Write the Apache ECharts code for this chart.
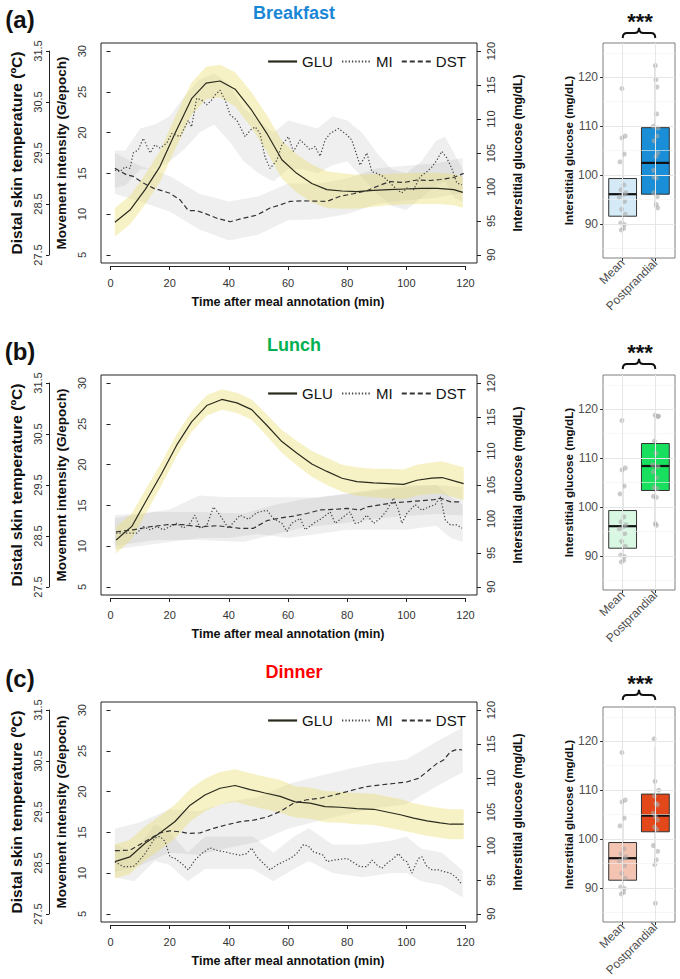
<!DOCTYPE html>
<html><head><meta charset="utf-8">
<script src="https://cdn.jsdelivr.net/npm/echarts@6/dist/echarts.min.js"></script>
<style>html,body{margin:0;padding:0;background:#fff}#c{width:680px;height:979px}</style>
</head><body><div id="c"></div>
<script>
const FONT = "'Liberation Sans', Arial, Helvetica, sans-serif";

// ---------- tick labels / categories ----------
const timeTicks = [0, 20, 40, 60, 80, 100, 120];
const miTicks = [5, 10, 15, 20, 25, 30];
const gluTicks = [90, 95, 100, 105, 110, 115, 120];
const dstTicks = [27.5, 28.5, 29.5, 30.5, 31.5];
const boxTicks = [90, 100, 110, 120];
const boxMinor = [85, 95, 105, 115, 125];
const boxCategories = ['Mean', 'Postprandial'];
const seriesNames = ['GLU', 'MI', 'DST'];
const mealTitles = ['Breakfast', 'Lunch', 'Dinner'];
const mealColors = ['#1a86d6', '#00b050', '#ff0000'];
const panelLetters = ['(a)', '(b)', '(c)'];

// ---------- (a) Breakfast ----------
const gluA = [[1.5,94.8],[6.6,96.6],[11.7,99.6],[16.7,103.0],[21.8,107.9],[27.4,113.0],[32.3,115.3],[37.0,115.6],[42.1,114.4],[47.7,111.3],[52.8,107.9],[57.9,104.0],[62.9,102.0],[68.0,100.5],[73.1,99.6],[78.2,99.4],[83.2,99.3],[88.8,99.5],[94.0,99.6],[99.5,99.7],[105.0,99.8],[110.5,99.8],[116.0,99.6],[119.0,99.2]];
const gluAse = [2.1,2.1,2.2,2.3,2.4,2.4,2.4,2.4,2.5,2.6,2.7,2.8,2.8,2.8,2.7,2.6,2.5,2.4,2.3,2.3,2.3,2.3,2.3,2.3];
const miA = [[1.5,15.4],[3.2,15.2],[4.9,15.8],[6.6,15.6],[7.7,17.5],[9.4,17.9],[11.1,19.3],[13.4,17.5],[15.0,18.5],[16.7,18.1],[19.0,18.7],[20.7,19.9],[23.5,19.5],[26.3,21.5],[27.4,20.7],[29.1,24.2],[30.8,24.0],[32.5,23.4],[34.2,24.0],[35.3,24.6],[37.0,25.2],[38.7,24.0],[40.4,22.2],[42.7,21.5],[45.5,19.5],[47.2,20.3],[48.9,20.7],[50.5,19.9],[52.2,17.0],[53.9,15.6],[56.2,16.6],[57.9,18.5],[60.1,19.5],[61.8,17.7],[64.1,19.1],[65.8,18.5],[67.4,17.9],[69.1,18.3],[70.8,17.1],[72.5,19.1],[74.2,19.9],[77.0,20.5],[79.9,19.7],[81.5,19.1],[84.3,16.0],[86.6,17.5],[88.3,15.2],[90.0,15.0],[92.2,14.6],[94.5,13.8],[96.8,13.0],[98.4,12.6],[100.1,13.2],[102.4,13.0],[104.6,14.6],[106.9,15.2],[108.6,15.8],[110.2,16.6],[111.9,17.7],[113.6,16.9],[115.3,15.6],[117.0,13.8],[118.7,13.6]];
const miBandA = [[1.5,13.2,17.8],[5,13.5,17.8],[10,15.5,20.5],[15,15.5,21],[20,16.5,22],[25,18,24.5],[30,20,26.5],[35,21,27.3],[40,19,26],[45,16.5,23],[50,15,21.5],[55,14,20],[60,15.5,21.5],[65,15.5,21],[70,15,20.5],[75,16,22],[80,16.5,21.5],[85,14.5,20],[90,12.5,17.5],[95,11,15.5],[100,10.5,15],[105,12,16.5],[110,13.5,19],[113,14,19.5],[116,12,17.5],[119,11.5,15.5]];
const dstA = [[1.5,29.20],[5.5,29.07],[7.7,29.04],[11.1,28.91],[14.5,28.81],[20.1,28.71],[23.5,28.58],[26.3,28.37],[29.1,28.37],[32.5,28.30],[35.9,28.22],[40.4,28.15],[44.9,28.22],[49.4,28.28],[53.9,28.42],[57.3,28.48],[60.7,28.55],[65.2,28.56],[73.1,28.55],[77.6,28.65],[82.1,28.70],[86.6,28.76],[91.1,28.87],[94.5,28.94],[99.0,28.92],[103.5,28.97],[108.0,28.96],[111.4,28.98],[115.9,29.02],[119.3,29.10]];
const dstBandA = [[1.5,28.7,29.5],[10,28.55,29.25],[20,28.35,29.05],[30,28.0,28.7],[40,27.78,28.55],[50,27.9,28.65],[60,28.18,28.9],[70,28.2,28.9],[80,28.3,29.0],[90,28.5,29.2],[100,28.57,29.25],[110,28.62,29.3],[119,28.72,29.4]];

// ---------- (b) Lunch ----------
const gluB = [[1.9,96.9],[7.2,98.9],[12.2,102.8],[17.3,106.7],[22.4,110.9],[27.4,114.3],[32.5,116.7],[37.6,117.6],[42.7,117.1],[47.7,116.1],[52.8,113.8],[57.9,111.4],[62.9,109.7],[68.0,108.1],[73.1,107.0],[78.2,106.0],[83.2,105.5],[88.9,105.3],[94.0,105.2],[99.0,105.1],[103.5,105.7],[108.5,106.0],[112.0,106.1],[116.0,105.6],[119.3,105.2]];
const gluBse = [2.0,1.9,1.8,1.7,1.6,1.5,1.5,1.5,1.5,1.5,1.6,1.7,1.8,1.9,2.0,2.0,2.1,2.1,2.2,2.2,2.3,2.3,2.4,2.4,2.4];
const miB = [[1.9,11.6],[5.5,11.6],[8.9,11.6],[11.1,12.4],[13.4,12.0],[15.6,12.4],[17.9,12.0],[20.1,12.4],[22.4,12.8],[24.6,12.2],[26.9,12.8],[28.5,13.8],[30.3,12.2],[32.5,12.5],[34.8,14.8],[37.0,13.8],[39.8,12.2],[43.8,13.8],[46.6,13.3],[49.4,14.1],[52.8,14.4],[55.0,13.4],[57.9,12.8],[59.6,11.8],[61.2,12.8],[64.1,13.4],[65.8,12.0],[68.6,12.8],[71.4,13.4],[74.2,14.2],[75.9,12.8],[78.7,13.6],[80.9,14.2],[82.6,12.8],[84.3,12.9],[86.6,13.8],[88.9,12.8],[91.1,13.4],[93.4,14.4],[95.6,15.9],[97.3,14.4],[98.4,12.8],[100.1,14.0],[102.9,15.1],[105.2,14.4],[107.4,14.8],[109.7,15.1],[111.4,16.1],[113.1,13.2],[114.8,12.6],[117.0,12.6],[118.7,12.2]];
const miBandB = [[1.5,9.6,13.8],[10,10,14],[20,10.5,14.5],[30,11,16.2],[40,11,16],[50,11.5,16],[60,11,16],[70,11.5,16],[80,12,16.5],[90,12,17],[100,12,17.5],[110,12.5,17.5],[115,11,16],[119,10.5,15]];
const dstB = [[1.9,28.58],[7.7,28.62],[13.4,28.68],[19.0,28.72],[24.6,28.72],[30.3,28.68],[35.9,28.70],[39.3,28.68],[43.8,28.65],[48.3,28.65],[52.8,28.80],[57.3,28.85],[61.8,28.89],[66.3,28.94],[70.8,29.01],[75.3,29.02],[79.9,29.04],[84.3,29.01],[86.6,29.07],[91.1,29.11],[95.6,29.15],[100.1,29.17],[104.6,29.19],[109.1,29.21],[111.4,29.24],[114.8,29.17],[118.1,29.17]];
const dstBandB = [[1.5,28.3,28.85],[15,28.42,28.97],[30,28.42,28.97],[45,28.38,28.94],[55,28.53,29.1],[65,28.66,29.22],[80,28.76,29.32],[95,28.87,29.43],[110,28.93,29.5],[119,28.9,29.46]];

// ---------- (c) Dinner ----------
const gluC = [[1.5,97.7],[6.6,98.4],[11.7,100.4],[16.7,101.9],[21.8,103.6],[26.9,106.0],[31.9,107.5],[37.0,108.5],[42.1,108.9],[47.2,108.3],[52.2,107.8],[57.3,107.3],[62.4,106.5],[67.4,106.3],[72.5,105.8],[77.6,105.7],[83.2,105.5],[88.9,105.4],[93.4,105.0],[97.9,104.6],[102.4,104.1],[106.9,103.7],[111.4,103.4],[114.8,103.2],[119.3,103.2]];
const gluCse = [2.5,2.5,2.5,2.5,2.5,2.4,2.4,2.4,2.4,2.4,2.4,2.4,2.3,2.3,2.3,2.3,2.3,2.3,2.3,2.3,2.2,2.2,2.2,2.2,2.2];
const miC = [[1.5,11.4],[4.3,10.8],[7.7,10.8],[9.4,11.4],[11.7,12.4],[15.0,14.3],[16.7,14.5],[18.4,13.9],[20.1,12.0],[21.8,11.8],[24.0,11.2],[26.3,10.4],[28.5,11.6],[30.8,12.4],[33.6,13.1],[35.9,12.8],[38.7,12.6],[40.9,12.4],[43.8,12.2],[46.0,12.4],[47.7,13.1],[49.4,12.0],[51.7,11.2],[53.9,10.4],[56.2,11.0],[58.4,11.4],[60.7,11.8],[62.9,12.4],[65.2,13.5],[66.9,13.3],[68.6,12.6],[70.3,12.4],[71.9,12.2],[73.1,11.4],[75.3,11.6],[77.6,11.7],[79.9,11.8],[82.1,11.3],[84.3,10.8],[86.6,10.8],[88.3,11.6],[90.0,11.0],[91.7,10.6],[93.4,11.2],[95.6,11.8],[97.3,12.4],[99.0,11.6],[100.1,11.4],[101.8,10.0],[104.0,11.8],[105.2,12.0],[106.9,10.8],[108.6,10.4],[110.8,10.4],[112.5,10.2],[114.8,10.0],[117.0,9.4],[118.7,8.6]];
const miBandC = [[1.5,9.5,13.5],[8,9,12.5],[15,11.5,16],[20,11,15],[26,9,12.5],[32,10.5,14.5],[40,10.5,14.5],[48,10.5,14.5],[55,9,12.5],[62,10.5,14.5],[67,11.5,15.5],[75,10,13.5],[85,9.5,13.5],[95,10,14],[100,10,14.5],[105,9,13],[112,8.5,12.5],[119,7,10.3]];
const dstC = [[1.5,28.74],[6.6,28.75],[11.7,28.92],[16.7,29.09],[20.1,29.13],[23.5,29.11],[26.3,29.08],[30.3,29.09],[34.8,29.18],[39.3,29.25],[43.8,29.31],[48.3,29.34],[52.8,29.40],[57.3,29.51],[61.8,29.67],[66.3,29.74],[70.8,29.77],[75.3,29.83],[79.9,29.90],[84.3,29.97],[86.6,30.00],[91.1,30.03],[95.6,30.06],[100.1,30.09],[104.0,30.16],[106.9,30.29],[110.2,30.45],[112.5,30.52],[114.8,30.68],[117.0,30.73],[118.7,30.72]];
const dstBandC = [[1.5,28.32,29.17],[10,28.45,29.3],[20,28.7,29.55],[30,28.66,29.52],[40,28.8,29.7],[50,28.92,29.8],[60,29.17,30.05],[70,29.32,30.2],[80,29.46,30.34],[90,29.58,30.46],[100,29.65,30.53],[110,30.0,30.88],[119,30.28,31.16]];

// ---------- boxplots: [lower whisker, Q1, median, Q3, upper whisker] ----------
const boxMean = [88.8, 91.6, 96.1, 99.3, 108.0];
const boxPostA = [93.2, 96.1, 102.5, 109.7, 122.4];
const boxPostB = [96.2, 103.4, 108.4, 113.0, 118.8];
const boxPostC = [95.1, 101.5, 104.8, 109.2, 119.0];
const boxFillA = ['#d4eaf7', '#1a8ed6'];
const boxFillB = ['#d8f8e4', '#19df5e'];
const boxFillC = ['#f4c4b2', '#e3481b'];
// jittered points: [x offset, value]
const ptsMean = [[-0.02,117.7],[0.08,108.0],[-0.02,107.6],[0.05,104.3],[-0.08,102.7],[0.04,98.0],[-0.05,97.0],[0.1,96.4],[0.02,96.0],[-0.1,95.5],[0.06,94.6],[-0.03,93.0],[0.08,92.0],[-0.06,90.2],[0.05,89.9],[0.03,89.1],[-0.04,88.8]];
const ptsPostA = [[0.0,122.4],[0.02,119.5],[0.05,118.0],[0.04,112.5],[-0.06,110.0],[0.08,109.6],[0.05,108.0],[-0.04,107.0],[0.07,104.5],[0.02,103.8],[-0.05,101.0],[-0.04,99.6],[0.03,99.4],[-0.05,96.4],[0.06,95.6],[0.03,94.0],[0.07,93.3]];
const ptsPostB = [[-0.01,118.8],[0.07,118.5],[0.1,118.6],[-0.03,113.5],[0.02,111.0],[-0.08,108.6],[0.08,108.3],[-0.06,107.2],[0.04,106.0],[-0.04,104.0],[0.05,103.8],[-0.06,102.2],[0.03,102.0],[0.0,96.6],[0.03,96.3]];
const ptsPostC = [[-0.04,120.5],[-0.01,111.8],[0.1,110.0],[-0.03,108.8],[0.02,107.3],[0.06,107.0],[-0.06,105.3],[0.0,104.6],[0.06,103.9],[-0.02,102.5],[0.04,102.0],[-0.06,98.7],[0.07,97.5],[0.03,95.8],[-0.02,94.8],[0.0,86.9]];

// ---------- layout (positions only) ----------
const panelOffsets = [0, 332, 659];
const boxOffsets = [0, 332, 664];
const annOffsets = [0, 331, 662];

const panels = [
  {glu: gluA, se: gluAse, mi: miA, miBand: miBandA, dst: dstA, dstBand: dstBandA, post: boxPostA, postPts: ptsPostA, fills: boxFillA},
  {glu: gluB, se: gluBse, mi: miB, miBand: miBandB, dst: dstB, dstBand: dstBandB, post: boxPostB, postPts: ptsPostB, fills: boxFillB},
  {glu: gluC, se: gluCse, mi: miC, miBand: miBandC, dst: dstC, dstBand: dstBandC, post: boxPostC, postPts: ptsPostC, fills: boxFillC}
];

const chart = echarts.init(document.getElementById('c'), null, {renderer: 'svg', width: 680, height: 979});
const grids = [], xAxis = [], yAxis = [], series = [], legend = [];
const addGrid = g => (grids.push(Object.assign({outerBoundsMode: 'none', containLabel: false}, g)), grids.length - 1);
const addX = a => (xAxis.push(a), xAxis.length - 1);
const addY = a => (yAxis.push(a), yAxis.length - 1);
const axisLineStyle = {color: '#222', width: 1};
const tickLabel = {fontSize: 11, color: '#333', fontFamily: FONT};
const boxXIdx = [];

const YELLOW = 'rgba(236,222,110,0.40)';
const GRAY = 'rgba(150,150,150,0.15)';

function band(xi, yi, pts, color, z) {
  series.push({
    type: 'custom', xAxisIndex: xi, yAxisIndex: yi, silent: true, z: z,
    data: pts, encode: {x: 0, y: [1, 2]},
    renderItem: (params, api) => {
      if (params.dataIndex !== 0) return null;
      const up = pts.map(p => api.coord([p[0], p[2]]));
      const lo = pts.map(p => api.coord([p[0], p[1]])).reverse();
      return {type: 'polygon', shape: {points: up.concat(lo)}, style: {fill: color}};
    }
  });
}

panels.forEach((p, k) => {
  const o = panelOffsets[k];
  const gM = addGrid({left: 101, top: 43 + o, width: 376, height: 220, show: true, borderColor: '#222', borderWidth: 1, backgroundColor: 'rgba(0,0,0,0)'});
  const xM = addX({type: 'value', gridIndex: gM, min: -3.2, max: 123.8, show: false});
  const yMI = addY({
    type: 'value', gridIndex: gM, position: 'left', min: 4, max: 31,
    axisLine: {show: false}, splitLine: {show: false},
    axisTick: {show: true, length: 4, customValues: miTicks, lineStyle: axisLineStyle},
    axisLabel: Object.assign({show: true, rotate: 90, margin: 14, customValues: miTicks}, tickLabel),
    name: 'Movement intensity (G/epoch)', nameLocation: 'middle', nameRotate: 90, nameGap: 30,
    nameTextStyle: {fontSize: 13.5, fontWeight: 'bold', color: '#111', fontFamily: FONT}
  });
  const yG = addY({
    type: 'value', gridIndex: gM, position: 'right', min: 88.8, max: 121.2,
    axisLine: {show: false}, splitLine: {show: false},
    axisTick: {show: true, length: 4, customValues: gluTicks, lineStyle: axisLineStyle},
    axisLabel: Object.assign({show: true, rotate: 90, margin: 8.5, customValues: gluTicks}, tickLabel),
    name: 'Interstitial glucose (mg/dL)', nameLocation: 'middle', nameRotate: 90, nameGap: 35,
    nameTextStyle: {fontSize: 12.3, fontWeight: 'bold', color: '#111', fontFamily: FONT}
  });
  const yD = addY({type: 'value', gridIndex: gM, position: 'left', min: 27.34, max: 31.66, show: false});

  const gX = addGrid({left: 110.5, top: 265 + o, width: 355, height: 1});
  addX({
    type: 'value', gridIndex: gX, min: 0, max: 120, interval: 20, position: 'bottom',
    axisLine: {show: true, lineStyle: axisLineStyle}, axisTick: {show: true, length: 4, lineStyle: axisLineStyle},
    splitLine: {show: false}, axisLabel: Object.assign({margin: 11}, tickLabel),
    name: 'Time after meal annotation (min)', nameLocation: 'middle', nameGap: 29,
    nameTextStyle: {fontSize: 12.5, fontWeight: 'bold', color: '#111', fontFamily: FONT}
  });
  addY({type: 'value', gridIndex: gX, show: false});

  const gD = addGrid({left: 49, top: 51 + o, width: 10, height: 204});
  addX({type: 'value', gridIndex: gD, show: false});
  addY({
    type: 'value', gridIndex: gD, position: 'left', min: 27.5, max: 31.5,
    axisLine: {show: true, lineStyle: axisLineStyle}, splitLine: {show: false},
    axisTick: {show: true, length: 3, customValues: dstTicks, lineStyle: axisLineStyle},
    axisLabel: Object.assign({rotate: 90, margin: 5.5, customValues: dstTicks}, tickLabel),
    name: 'Distal skin temperature (ºC)', nameLocation: 'middle', nameRotate: 90, nameGap: 25,
    nameTextStyle: {fontSize: 15.5, fontWeight: 'bold', color: '#111', fontFamily: FONT}
  });

  band(xM, yMI, p.miBand, GRAY, 1);
  band(xM, yD, p.dstBand, GRAY, 1);
  band(xM, yG, p.glu.map((d, i) => [d[0], d[1] - p.se[i], d[1] + p.se[i]]), YELLOW, 2);

  series.push({type: 'line', name: 'GLU', xAxisIndex: xM, yAxisIndex: yG, data: p.glu, symbol: 'none', silent: true, z: 5,
    itemStyle: {color: '#2a2a1e'}, lineStyle: {color: '#2a2a1e', width: 1.2, type: 'solid'}});
  series.push({type: 'line', name: 'MI', xAxisIndex: xM, yAxisIndex: yMI, data: p.mi, symbol: 'none', silent: true, z: 5,
    itemStyle: {color: '#444'}, lineStyle: {color: '#444', width: 1.2, type: [1.3, 2]}});
  series.push({type: 'line', name: 'DST', xAxisIndex: xM, yAxisIndex: yD, data: p.dst, symbol: 'none', silent: true, z: 5,
    itemStyle: {color: '#333'}, lineStyle: {color: '#333', width: 1.2, type: [5, 3]}});

  legend.push({left: 267, top: 54 + o, padding: 0, itemWidth: 29, itemHeight: 14, itemGap: 8, selectedMode: false,
    data: seriesNames, textStyle: {fontSize: 15, color: '#111', fontFamily: FONT},
    lineStyle: {width: 2.2}, itemStyle: {opacity: 0}});

  const ob = boxOffsets[k];
  const gB = addGrid({left: 603, top: 43 + ob, width: 72, height: 215, show: true, borderColor: '#7f7f7f', borderWidth: 1});
  const xB = addX({
    type: 'value', gridIndex: gB, min: 0.4, max: 2.6,
    axisLine: {show: false}, splitLine: {show: false},
    axisTick: {show: true, length: 3, customValues: [1, 2], lineStyle: {color: '#333'}},
    axisLabel: {customValues: [1, 2], rotate: 45, margin: 3, fontSize: 12, color: '#4d4d4d', fontFamily: FONT,
      formatter: v => boxCategories[Math.round(v) - 1]}
  });
  boxXIdx.push(xB);
  const yB = addY({
    type: 'value', gridIndex: gB, min: 83.06, max: 127,
    axisLine: {show: false}, splitLine: {show: false},
    axisTick: {show: true, length: 3, customValues: boxTicks, lineStyle: {color: '#333'}},
    axisLabel: {customValues: boxTicks, margin: 5, fontSize: 12, color: '#4d4d4d', fontFamily: FONT},
    name: 'Interstitial glucose (mg/dL)', nameLocation: 'middle', nameRotate: 90, nameGap: 24,
    nameTextStyle: {fontSize: 11.7, fontWeight: 'bold', color: '#111', fontFamily: FONT}
  });
  series.push({type: 'scatter', xAxisIndex: xB, yAxisIndex: yB, data: [], z: 1, silent: true,
    markLine: {silent: true, symbol: 'none', label: {show: false}, animation: false,
      data: [].concat(
        boxMinor.map(v => ({yAxis: v, lineStyle: {color: '#f2f2f2', width: 0.6, type: 'solid'}})),
        boxTicks.map(v => ({yAxis: v, lineStyle: {color: '#e6e6e6', width: 1, type: 'solid'}})),
        [1, 2].map(v => ({xAxis: v, lineStyle: {color: '#e6e6e6', width: 1, type: 'solid'}}))
      )}});
  const fills = p.fills;
  series.push({
    type: 'custom', xAxisIndex: xB, yAxisIndex: yB, silent: true, z: 2,
    data: [[1].concat(boxMean), [2].concat(p.post)], encode: {x: 0, y: [1, 2, 3, 4, 5]},
    renderItem: (params, api) => {
      const x = api.value(0), w = 0.85;
      const c = i => api.coord([x, api.value(i)]);
      const pMin = c(1), pQ1 = c(2), pMed = c(3), pQ3 = c(4), pMax = c(5);
      const L = api.coord([x - w / 2, api.value(2)])[0], R = api.coord([x + w / 2, api.value(2)])[0];
      const st = {stroke: '#333', lineWidth: 1};
      return {type: 'group', children: [
        {type: 'line', shape: {x1: pMin[0], y1: pMin[1], x2: pQ1[0], y2: pQ1[1]}, style: st},
        {type: 'line', shape: {x1: pQ3[0], y1: pQ3[1], x2: pMax[0], y2: pMax[1]}, style: st},
        {type: 'rect', shape: {x: L, y: pQ3[1], width: R - L, height: pQ1[1] - pQ3[1]}, style: {fill: fills[params.dataIndex], stroke: '#333', lineWidth: 1}},
        {type: 'line', shape: {x1: L, y1: pMed[1], x2: R, y2: pMed[1]}, style: {stroke: '#111', lineWidth: 2.2}}
      ]};
    }
  });
  series.push({type: 'scatter', xAxisIndex: xB, yAxisIndex: yB, silent: true, z: 3, symbolSize: 5,
    itemStyle: {color: 'rgba(170,170,170,0.75)'},
    data: ptsMean.map(d => [1 + d[0], d[1]]).concat(p.postPts.map(d => [2 + d[0], d[1]]))});
});

chart.setOption({
  animation: false, backgroundColor: '#fff',
  textStyle: {fontFamily: FONT},
  grid: grids, xAxis: xAxis, yAxis: yAxis, legend: legend, series: series
});

// annotations: titles, panel letters, significance marks
const gfx = [];
panelOffsets.forEach((o, k) => {
  const a = annOffsets[k];
  gfx.push({type: 'text', x: 20, y: 19 + o, style: {text: panelLetters[k], fontSize: 24, fontWeight: 'bold', fontFamily: FONT, fill: '#111', align: 'center', verticalAlign: 'middle'}});
  gfx.push({type: 'text', x: 294, y: 13 + o, style: {text: mealTitles[k], fontSize: 18, fontWeight: 'bold', fontFamily: FONT, fill: mealColors[k], align: 'center', verticalAlign: 'middle'}});
  const x1 = chart.convertToPixel({xAxisIndex: boxXIdx[k]}, 1);
  const x2 = chart.convertToPixel({xAxisIndex: boxXIdx[k]}, 2);
  const xm = (x1 + x2) / 2, y = 33 + a;
  const pts = [[x1, y + 5], [x1 + 0.6, y + 2], [x1 + 2, y + 0.5], [x1 + 4, y], [xm - 4, y], [xm - 2, y - 0.5], [xm - 0.6, y - 2], [xm, y - 5],
               [xm + 0.6, y - 2], [xm + 2, y - 0.5], [xm + 4, y], [x2 - 4, y], [x2 - 2, y + 0.5], [x2 - 0.6, y + 2], [x2, y + 5]];
  gfx.push({type: 'polyline', shape: {points: pts}, style: {stroke: '#111', lineWidth: 2, fill: null}});
  gfx.push({type: 'text', x: xm + 1, y: 21.5 + a, style: {text: '***', fontSize: 22, fontWeight: 'bold', fontFamily: FONT, fill: '#111', align: 'center', verticalAlign: 'middle'}});
});
chart.setOption({graphic: {elements: gfx}});
</script></body></html>
